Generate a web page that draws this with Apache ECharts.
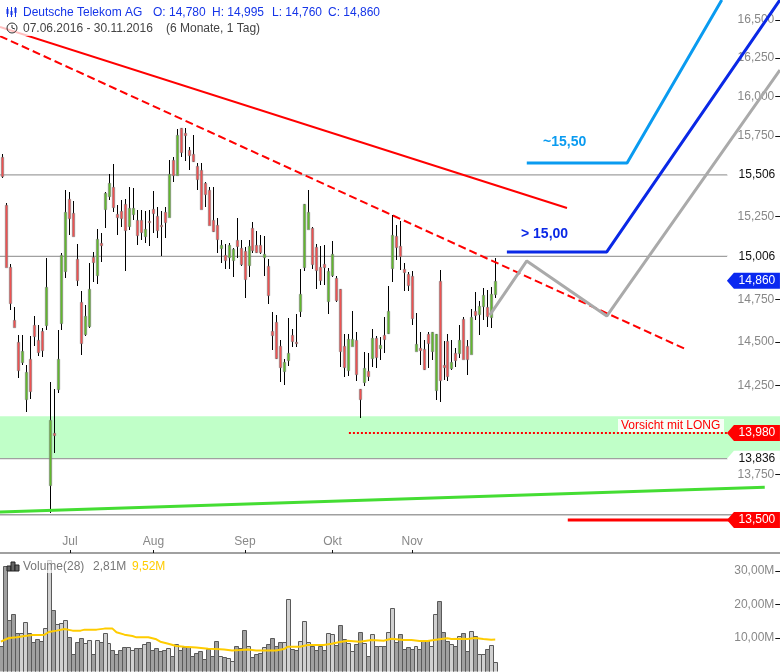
<!DOCTYPE html>
<html><head><meta charset="utf-8">
<style>html,body{margin:0;padding:0;background:#fff}#c{width:780px;height:672px}</style>
<script src="https://cdn.jsdelivr.net/npm/echarts@6/dist/echarts.min.js"></script>
</head><body><div id="c"></div>
<script>
// [open, close, low, high]
const ohlc = [
[15618,15499,15486,15636],[15320,14943,14943,15332],[14943,14728,14687,14961],[14628,14587,14587,14705],[14500,14338,14292,14541],
[14384,14448,14367,14541],[14173,14327,14099,14367],[14402,14218,14173,14535],[14599,14535,14477,14651],[14512,14442,14419,14599],
[14564,14454,14413,14582],[14599,14823,14570,14997],[13693,14054,13535,14270],[13981,13970,13870,14230],[14230,14402,14207,14570],
[14611,15015,14570,15027],[14919,15277,14877,15412],[15356,15240,15136,15400],[15271,15130,15130,15344],[14991,14865,14829,15082],
[14734,14494,14425,14799],[14547,14651,14535,14716],[14593,14811,14582,14967],[15003,14973,14853,15033],[14895,15112,14841,15172],
[15088,15076,14973,15148],[15295,15393,15178,15400],[15375,15455,15350,15511],[15430,15307,15277,15574],[15265,15246,15136,15320],
[15283,15240,15184,15350],[15326,15166,14919,15356],[15190,15301,15166,15430],[15265,15301,15228,15424],[15228,15136,15076,15289],
[15228,15154,15106,15289],[15130,15172,15088,15283],[15222,15215,15070,15289],[15295,15271,15148,15406],[15252,15166,15118,15307],
[15197,15190,15009,15283],[15277,15215,15118,15307],[15246,15511,15246,15599],[15599,15505,15461,15618],[15505,15756,15505,15794],
[15801,15649,15618,15801],[15769,15756,15593,15801],[15662,15630,15536,15681],[15636,15593,15586,15756],[15561,15480,15412,15580],
[15536,15295,15295,15580],[15455,15387,15307,15461],[15412,15197,15197,15430],[15228,15160,15154,15430],[15197,15112,15027,15240],
[15058,15076,14967,15106],[15015,14985,14931,15082],[15003,15076,14931,15088],[14985,15052,14883,15058],[15106,15070,14997,15240],
[15058,14961,14949,15106],[15039,14871,14758,15064],[14955,15070,14883,15106],[15178,15045,15027,15215],[15076,15033,15027,15160],
[15076,15033,15021,15136],[15003,15021,14889,15130],[14949,14775,14722,14991],[14564,14541,14454,14675],[14616,14408,14402,14657],
[14477,14355,14270,14512],[14333,14384,14252,14402],[14396,14437,14361,14640],[14541,14506,14471,14576],[14500,14494,14471,14663],
[14681,14781,14645,14931],[14943,15326,14919,15326],[15172,15277,15172,15412],[15178,14961,14931,15184],[15064,14925,14811,15082],
[14943,14865,14835,15070],[14961,14943,14835,15076],[14740,14919,14663,14937],[14895,15021,14883,15100],[14877,14746,14734,14889],
[14811,14448,14355,14811],[14477,14355,14298,14547],[14338,14518,14304,14547],[14477,14518,14477,14681],[14512,14315,14276,14558],
[14230,14173,14065,14230],[14270,14350,14247,14442],[14333,14304,14276,14437],[14408,14524,14355,14576],[14524,14413,14350,14535],
[14466,14483,14396,14529],[14541,14518,14437,14645],[14553,14681,14547,14829],[14937,15136,14853,15259],[15130,15064,14985,15197],
[15070,15009,14925,15222],[14931,14913,14799,14967],[14901,14835,14799,14913],[14889,14640,14599,14919],[14448,14489,14448,14669],
[14466,14454,14367,14558],[14460,14344,14338,14512],[14547,14494,14350,14558],[14448,14558,14396,14558],[14224,14547,14167,14547],
[14859,14281,14156,14925],[14367,14355,14281,14506],[14506,14304,14276,14547],[14350,14384,14338,14512],[14437,14396,14355,14466],
[14437,14512,14408,14599],[14634,14402,14402,14645],[14477,14402,14310,14512],[14431,14645,14431,14693],[14681,14657,14628,14793],
[14663,14710,14541,14740],[14710,14775,14628,14817],[14705,14651,14587,14805],[14645,14781,14582,14823],[14780,14860,14760,14995]
];
// million shares
const volumes = [
7.7,31.5,15.4,17.1,11.4,11.4,14.7,11.4,8.7,9.7,9.1,12.9,33.3,18.3,14.1,14.4,15.3,10.4,5.2,8.8,
9.9,8.5,9.4,5.2,9.4,8.8,11.4,8.5,6.4,5.2,6.4,7.3,7.3,6.4,7.0,7.0,8.2,8.8,6.4,7.0,
6.1,6.4,7.0,4.6,8.2,6.4,7.3,7.3,4.6,5.5,6.1,3.7,6.7,4.6,9.1,4.6,4.3,4.0,3.1,7.6,
7.0,12.3,7.6,4.3,5.2,5.5,7.3,8.2,10.0,7.6,8.8,8.8,21.6,6.7,6.4,9.1,15.0,8.8,7.6,6.4,
7.6,6.4,11.4,11.1,7.9,13.8,9.7,8.5,6.1,8.2,11.7,8.5,4.6,11.1,7.6,7.6,7.6,11.7,18.9,8.8,
11.1,6.7,7.3,6.7,7.6,6.7,9.1,9.4,7.6,17.1,21.0,11.7,9.1,8.2,7.6,10.5,11.4,6.1,12.0,10.5,
5.2,5.2,6.7,7.9,2.8
];
// volume moving average, [bar index, million]
const volumeMA = [[0,8.9],[2,10.0],[4,10.2],[6,10.6],[8,10.9],[10,10.9],[11,11.0],[12,11.8],[14,12.2],[16,12.7],[18,12.2],[20,12.2],[21,12.5],[24,12.5],[26,12.8],[28,12.8],[29,11.7],[31,11.0],[33,10.6],[34,10.2],[37,10.2],[39,9.6],[40,8.9],[42,8.3],[44,7.6],[46,7.4],[49,7.2],[52,6.8],[54,6.7],[56,6.6],[58,6.3],[60,6.4],[62,6.6],[64,6.3],[66,6.3],[69,6.3],[71,6.7],[72,7.4],[75,7.4],[77,7.9],[81,7.9],[83,8.3],[85,8.8],[87,9.2],[90,8.9],[93,9.4],[96,9.2],[98,9.8],[101,9.4],[103,9.4],[105,9.1],[107,9.1],[110,9.6],[112,9.9],[113,9.7],[116,9.8],[117,9.7],[119,10.0],[121,9.7],[123,9.5],[124,9.52]];
const monthTicks = {17:'Jul',38:'Aug',61:'Sep',83:'Okt',103:'Nov'};
const priceTicks = [16500,16250,16000,15750,15250,14750,14500,14250,13750];
const volumeTicks = [10,20,30];
// overlays: [bar index, price]
const trendSolid = [[-0.58,16454],[141.9,15301]];
const trendDashed = [[-0.58,16394],[171.5,14460]];
const trendGreen = [[-0.58,13543],[191.6,13678]];
const pathLightBlue = [[131.8,15580],[157,15580],[180.8,16633]];
const pathDarkBlue = [[126.8,15033],[151.9,15033],[195.4,16633]];
const pathGrey = [[122.5,14657],[131.8,14979],[151.9,14651],[195.4,16172]];
const levelDotted = [[87.1,13980],[183,13980]];
const levelRed = [[142.1,13500],[183,13500]];
const hLevels = [15506,15006,13836,13528];
const zoneBand = [14074,13836];
const tagIndex = 188.75;
const tags = [
 {p:15506,t:'15,506',bg:'#ffffff',fg:'#111'},
 {p:15006,t:'15,006',bg:'#ffffff',fg:'#111'},
 {p:14860,t:'14,860',bg:'#0a28f0',fg:'#fff'},
 {p:13980,t:'13,980',bg:'#ff0000',fg:'#fff'},
 {p:13836,t:'13,836',bg:'#ffffff',fg:'#111'},
 {p:13500,t:'13,500',bg:'#ff0000',fg:'#fff'}
];
const LEAD = 3, TOTAL = 199;
const FONT = '"Liberation Sans", Arial, sans-serif';
const BLUE = '#1535e8';
const fmtPrice = v => { const s = String(Math.round(v)); return s.slice(0,2)+','+s.slice(2); };
const cats = Array.from({length:TOTAL},(_,k)=>String(k-LEAD));
const isMonth = (idx) => monthTicks[idx-LEAD] !== undefined;
const overlay = (data,color,width,type,z) => ({type:'line',xAxisIndex:1,yAxisIndex:0,data,symbol:'none',silent:true,z:z||5,animation:false,
  lineStyle:{color,width,type:type||'solid',cap:'butt'}});
// y = vertical centre of the text line
const txt = (x,y,text,fill,font) => ({type:'text',x,y:y-6,silent:true,z:100,style:{text,fill,font:font||('12px '+FONT),textBaseline:'top'}});
const renderCandle = (params,api) => {
  const x = api.coord([api.value(0),api.value(1)])[0];
  const o = api.coord([api.value(0),api.value(1)])[1], c = api.coord([api.value(0),api.value(2)])[1];
  const l = api.coord([api.value(0),api.value(3)])[1], h = api.coord([api.value(0),api.value(4)])[1];
  const cx = Math.floor(x)+0.5;
  const top = Math.round(Math.min(o,c))+0.3, bot = Math.max(top+1.4,Math.round(Math.max(o,c))+0.7);
  const up = api.value(2) >= api.value(1);
  return {type:'group',children:[
    {type:'line',shape:{x1:cx,y1:Math.round(h),x2:cx,y2:Math.round(l)},style:{stroke:'#000',lineWidth:1}},
    {type:'rect',shape:{x:cx-1.2,y:top,width:2.4,height:bot-top},style:{fill:up?'#62b82e':'#ee5252',stroke:'#808080',lineWidth:0.6}}
  ]};
};
const renderVol = (params,api) => {
  const i = api.value(0);
  const band = api.size([1,0])[0];
  const p = api.coord([i,api.value(1)]), b = api.coord([i,0]);
  const left = Math.round(p[0]-band/2), right = Math.round(p[0]+band/2);
  return {type:'rect',shape:{x:left+0.5,y:Math.round(p[1])+0.5,width:right-left,height:b[1]-Math.round(p[1])+2},
    style:{fill:api.value(2)?'#d0d0d0':'#a0a0a0',stroke:'#5a5a5a',lineWidth:1}};
};
const chart = echarts.init(document.getElementById('c'),null,{renderer:'canvas'});
chart.setOption({
 animation:false,
 backgroundColor:'#fff',
 grid:[
  {left:-11.63,top:0,width:791.9,height:553,containLabel:false,outerBoundsMode:'none'},
  {left:-13.1,top:556,width:793.4,height:115.5,containLabel:false,outerBoundsMode:'none'}
 ],
 xAxis:[
  {type:'category',gridIndex:0,data:cats,boundaryGap:true,
   axisLine:{show:true,lineStyle:{color:'#808080',width:1.5}},
   axisTick:{show:true,inside:true,length:3,alignWithLabel:true,interval:isMonth,lineStyle:{color:'#111'}},
   axisLabel:{show:true,inside:true,interval:isMonth,margin:5,color:'#888',fontFamily:FONT,fontSize:12,hideOverlap:false,
     formatter:(v)=>monthTicks[v]||''},splitLine:{show:false}},
  {type:'value',gridIndex:0,min:-3.5,max:195.5,show:false,splitLine:{show:false}},
  {type:'category',gridIndex:1,data:cats,boundaryGap:true,
   axisLine:{show:false},
   axisTick:{show:true,inside:true,length:4,alignWithLabel:true,interval:isMonth,lineStyle:{color:'#111'}},
   axisLabel:{show:false},splitLine:{show:false}}
 ],
 yAxis:[
  {type:'log',gridIndex:0,logBase:10,min:13322,max:16633,position:'right',splitLine:{show:false},
   axisLine:{show:false,onZero:false},
   axisTick:{show:true,inside:true,length:5,customValues:priceTicks,lineStyle:{color:'#111'}},
   axisLabel:{show:true,inside:true,margin:6,customValues:priceTicks,color:'#888',fontFamily:FONT,fontSize:12,formatter:fmtPrice,showMinLabel:true,showMaxLabel:true}},
  {type:'value',gridIndex:1,min:0,max:34.48,position:'right',splitLine:{show:false},
   axisLine:{show:false,onZero:false},
   axisTick:{show:true,inside:true,length:5,customValues:volumeTicks,lineStyle:{color:'#111'}},
   axisLabel:{show:true,inside:true,margin:6,customValues:volumeTicks,color:'#888',fontFamily:FONT,fontSize:12,
     formatter:v=>v.toFixed(2).replace('.',',')+'M'}}
 ],
 series:[
  {type:'line',xAxisIndex:1,yAxisIndex:0,data:[],symbol:'none',z:1,silent:true,
   markArea:{silent:true,itemStyle:{color:'#c0ffc8'},label:{show:false},data:[[{yAxis:zoneBand[0]},{yAxis:zoneBand[1]}]]}},
  ...hLevels.map(p=>overlay([[-4,p],[196,p]],'#a0a0a0',1.3,'solid',2)),
  {type:'custom',xAxisIndex:0,yAxisIndex:0,z:3,silent:true,renderItem:renderCandle,clip:true,
   encode:{x:0,y:[1,2,3,4]},
   data:ohlc.map((d,i)=>[i+LEAD,d[0],d[1],d[2],d[3]])},
  overlay(trendSolid,'#ff0000',2),
  overlay(trendDashed,'#ff0000',2,[8,4]),
  overlay(trendGreen,'#44dd33',3),
  overlay(pathLightBlue,'#0a9bf0',3,'solid',6),
  overlay(pathDarkBlue,'#0a28e6',3,'solid',6),
  overlay(pathGrey,'#aaaaaa',3,'solid',6),
  overlay(levelDotted,'#ff0000',2,[2,2],6),
  overlay(levelRed,'#ff0000',3,'solid',6),
  {type:'scatter',xAxisIndex:1,yAxisIndex:0,z:20,silent:true,
   data:tags.map(t=>({value:[tagIndex,t.p],symbol:'path://M0 8 L7 0 L53 0 L53 16 L7 16 Z',symbolSize:[53,16],
     itemStyle:{color:t.bg,opacity:1},
     label:{show:true,position:'inside',offset:[3.5,0],formatter:t.t,color:t.fg,fontFamily:FONT,fontSize:12}}))},
  {type:'custom',xAxisIndex:2,yAxisIndex:1,z:3,silent:true,renderItem:renderVol,clip:true,
   encode:{x:0,y:1},
   data:volumes.map((v,i)=>[i+LEAD,v,ohlc[i][1]>=ohlc[i][0]?1:0])},
  {type:'line',xAxisIndex:2,yAxisIndex:1,z:5,symbol:'none',silent:true,
   data:volumeMA.map(d=>[d[0]+LEAD,d[1]]),lineStyle:{color:'#ffcc00',width:2}}
 ],
 graphic:{elements:[
  {type:'rect',silent:true,z:99,shape:{x:0,y:22,width:262,height:14},style:{fill:'rgba(255,255,255,0.75)'}},
  {type:'rect',silent:true,z:99,shape:{x:21,y:559,width:152,height:14},style:{fill:'rgba(255,255,255,0.7)'}},
  ...[[7.5,9,14],[11.5,11,15],[15.5,8,13]].map(b=>({type:'rect',silent:true,z:100,shape:{x:b[0]-1,y:b[1],width:2,height:b[2]-b[1]},style:{fill:BLUE}})),
  ...[7.5,11.5,15.5].map(x=>({type:'line',silent:true,z:100,shape:{x1:x,y1:7,x2:x,y2:17},style:{stroke:BLUE,lineWidth:1}})),
  {type:'circle',silent:true,z:100,shape:{cx:12,cy:28,r:5},style:{fill:'none',stroke:'#333',lineWidth:1}},
  {type:'polyline',silent:true,z:100,shape:{points:[[12,25],[12,28],[15,29]]},style:{fill:'none',stroke:'#333',lineWidth:1}},
  ...[[7,566],[11,562],[15,565]].map(b=>({type:'rect',silent:true,z:100,shape:{x:b[0],y:b[1],width:4,height:571-b[1]},style:{fill:'#666',stroke:'#222',lineWidth:1}})),
  txt(23,12.5,'Deutsche Telekom AG',BLUE),
  txt(153,12.5,'O: 14,780',BLUE),
  txt(212,12.5,'H: 14,995',BLUE),
  txt(272,12.5,'L: 14,760',BLUE),
  txt(328,12.5,'C: 14,860',BLUE),
  txt(23,28.5,'07.06.2016 - 30.11.2016','#444'),
  txt(166,28.5,'(6 Monate, 1 Tag)','#444'),
  txt(23,567,'Volume(28)','#777'),
  txt(93,567,'2,81M','#777'),
  txt(132,567,'9,52M','#ffcc00'),
  txt(543,141,'~15,50','#0a9bf0','bold 14px '+FONT),
  txt(521,233,'> 15,00','#0a28e6','bold 14px '+FONT),
  {type:'rect',silent:true,z:99,shape:{x:618,y:419,width:106,height:13},style:{fill:'#fff',opacity:0.85}},
  txt(621,426,'Vorsicht mit LONG','#ff0000')
 ]}
});
</script></body></html>
